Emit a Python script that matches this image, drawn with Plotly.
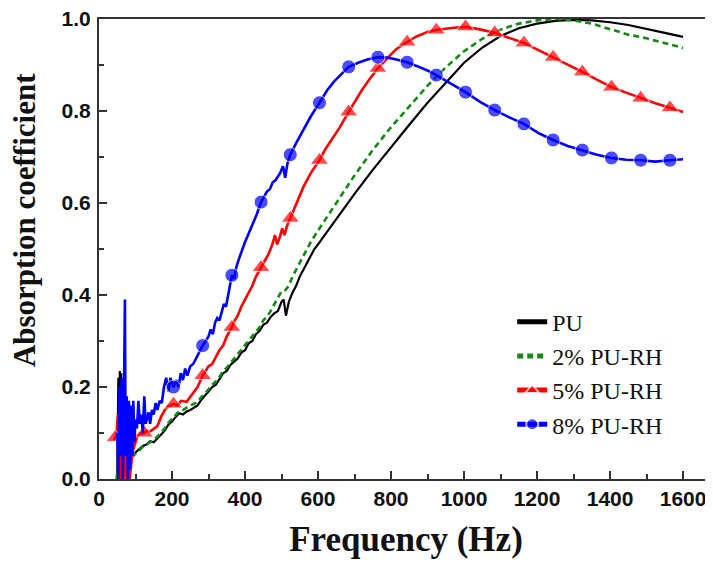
import plotly.graph_objects as go

# PU (black)
F_PU = [50, 53, 55, 57, 59, 61, 63, 66, 70, 75, 80, 85, 90, 95, 100, 110, 120, 130, 140, 150,
        160, 170, 180, 190, 200, 210, 220, 230, 240, 250, 260, 270, 280, 290, 300, 310, 320,
        330, 340, 350, 360, 370, 380, 390, 400, 410, 420, 430, 440, 450, 460, 470, 480, 490,
        500, 506, 512, 520, 530, 540, 550, 560, 570, 580, 590, 600, 650, 700, 750, 800, 850,
        900, 950, 1000, 1050, 1100, 1150, 1200, 1250, 1300, 1350, 1400, 1450, 1500, 1550, 1600]
A_PU = [0.0, 0.22, 0.02, 0.235, 0.0, 0.23, 0.05, 0.0, 0.13, 0.02, 0.10, 0.04, 0.06, 0.05, 0.058,
        0.065, 0.072, 0.075, 0.082, 0.08, 0.088, 0.095, 0.105, 0.118, 0.125, 0.135, 0.143, 0.14,
        0.147, 0.15, 0.155, 0.16, 0.172, 0.18, 0.19, 0.2, 0.205, 0.217, 0.23, 0.235, 0.248, 0.255,
        0.262, 0.275, 0.28, 0.295, 0.3, 0.315, 0.322, 0.335, 0.34, 0.352, 0.36, 0.365, 0.385, 0.39,
        0.355, 0.385, 0.405, 0.42, 0.44, 0.455, 0.47, 0.485, 0.5, 0.51, 0.565, 0.62, 0.672, 0.722,
        0.77, 0.818, 0.862, 0.905, 0.938, 0.963, 0.98, 0.99, 0.996, 0.998, 0.997, 0.993, 0.987,
        0.979, 0.97, 0.961]

# 2% PU-RH (green dashed)
F_2 = [48, 52, 56, 60, 70, 80, 90, 100, 110, 120, 130, 140, 150, 160, 170, 180, 190, 200, 210,
       220, 230, 240, 250, 260, 270, 280, 290, 300, 310, 320, 330, 340, 350, 360, 370, 380, 390,
       400, 410, 420, 430, 440, 450, 460, 470, 480, 490, 500, 510, 520, 530, 540, 550, 560, 570,
       580, 600, 650, 700, 750, 800, 850, 900, 950, 1000, 1050, 1100, 1150, 1200, 1250, 1300,
       1350, 1400, 1450, 1500, 1550, 1600]
A_2 = [0.0, 0.03, 0.0, 0.05, 0.02, 0.04, 0.05, 0.055, 0.062, 0.07, 0.075, 0.08, 0.085, 0.092,
       0.1, 0.11, 0.122, 0.13, 0.14, 0.148, 0.15, 0.155, 0.16, 0.163, 0.168, 0.178, 0.185, 0.195,
       0.205, 0.212, 0.222, 0.235, 0.242, 0.252, 0.262, 0.27, 0.282, 0.29, 0.302, 0.31, 0.322,
       0.33, 0.345, 0.352, 0.365, 0.38, 0.395, 0.408, 0.41, 0.42, 0.44, 0.455, 0.47, 0.485, 0.5,
       0.515, 0.54, 0.6, 0.66, 0.715, 0.765, 0.81, 0.855, 0.895, 0.93, 0.957, 0.977, 0.99, 0.997,
       1.0, 0.997, 0.99, 0.978, 0.966, 0.958, 0.948, 0.937]

# 5% PU-RH (red, triangles)
F_5 = [40, 44, 48, 52, 55, 58, 61, 64, 68, 72, 76, 80, 84, 88, 92, 96, 100, 106, 112, 118, 124,
       132, 140, 150, 160, 170, 180, 190, 204, 215, 225, 240, 255, 270, 284, 300, 310, 320, 330,
       340, 350, 364, 372, 380, 390, 400, 410, 420, 430, 444, 455, 465, 475, 482, 488, 495, 502,
       508, 515, 524, 540, 560, 580, 604, 620, 640, 660, 684, 700, 720, 740, 764, 790, 815, 844,
       870, 900, 924, 960, 1004, 1040, 1084, 1120, 1164, 1200, 1244, 1284, 1324, 1364, 1404,
       1444, 1484, 1524, 1564, 1600]
A_5 = [0.085, 0.09, 0.1, 0.14, 0.02, 0.12, 0.0, 0.08, 0.0, 0.06, 0.0, 0.04, 0.0, 0.03, 0.06,
       0.07, 0.08, 0.095, 0.1, 0.098, 0.1, 0.105, 0.103, 0.11, 0.115, 0.135, 0.15, 0.158, 0.163,
       0.16, 0.17, 0.168, 0.185, 0.2, 0.225, 0.245, 0.25, 0.265, 0.28, 0.29, 0.31, 0.33, 0.345,
       0.355, 0.375, 0.39, 0.405, 0.42, 0.44, 0.46, 0.475, 0.49, 0.51, 0.53, 0.51, 0.525, 0.545,
       0.53, 0.55, 0.567, 0.6, 0.635, 0.665, 0.693, 0.717, 0.74, 0.765, 0.798, 0.82, 0.845, 0.868,
       0.893, 0.915, 0.935, 0.95, 0.962, 0.972, 0.976, 0.98, 0.983, 0.978, 0.97, 0.96, 0.948,
       0.934, 0.917, 0.9, 0.885, 0.868, 0.852, 0.84, 0.828, 0.817, 0.807, 0.798]
MARK_5 = [44, 124, 204, 284, 364, 444, 524, 604, 684, 764, 844, 924, 1004, 1084, 1164, 1244,
          1324, 1404, 1484, 1564]

# 8% PU-RH (blue, circles)
F_8 = [50, 53, 56, 59, 62, 65, 68, 71, 73, 76, 79, 82, 85, 88, 91, 94, 97, 100, 104, 108, 112,
       116, 120, 124, 128, 132, 136, 140, 145, 150, 155, 160, 166, 172, 178, 184, 190, 196, 204,
       212, 218, 224, 230, 236, 242, 250, 258, 266, 274, 284, 292, 300, 306, 312, 318, 324, 330,
       336, 342, 348, 356, 364, 370, 376, 384, 392, 400, 408, 416, 424, 432, 444, 452, 460, 468,
       476, 484, 496, 504, 510, 516, 524, 540, 560, 580, 604, 625, 645, 665, 684, 710, 735, 764,
       790, 815, 844, 870, 900, 924, 960, 1004, 1044, 1084, 1124, 1164, 1204, 1244, 1284, 1324,
       1364, 1404, 1444, 1484, 1524, 1564, 1600]
A_8 = [0.1, 0.0, 0.2, 0.05, 0.22, 0.0, 0.15, 0.39, 0.05, 0.18, 0.0, 0.17, 0.02, 0.16, 0.05,
       0.17, 0.08, 0.13, 0.11, 0.17, 0.12, 0.14, 0.1, 0.18, 0.12, 0.13, 0.145, 0.12, 0.15, 0.14,
       0.165, 0.15, 0.17, 0.165, 0.2, 0.22, 0.19, 0.22, 0.2, 0.215, 0.2, 0.23, 0.215, 0.24, 0.225,
       0.245, 0.25, 0.262, 0.275, 0.29, 0.3, 0.31, 0.325, 0.315, 0.34, 0.35, 0.345, 0.365, 0.38,
       0.375, 0.41, 0.443, 0.435, 0.46, 0.48, 0.5, 0.515, 0.53, 0.545, 0.56, 0.575, 0.602, 0.615,
       0.625, 0.63, 0.645, 0.65, 0.665, 0.68, 0.655, 0.685, 0.705, 0.73, 0.76, 0.788, 0.818,
       0.845, 0.865, 0.882, 0.896, 0.905, 0.912, 0.917, 0.916, 0.912, 0.906, 0.898, 0.888, 0.878,
       0.862, 0.841, 0.82, 0.802, 0.786, 0.772, 0.752, 0.737, 0.724, 0.715, 0.705, 0.698, 0.694,
       0.693, 0.69, 0.693, 0.695]
MARK_8 = [204, 284, 364, 444, 524, 604, 684, 764, 844, 924, 1004, 1084, 1164, 1244, 1324, 1404,
          1484, 1564]

X_TICKS = [0, 200, 400, 600, 800, 1000, 1200, 1400, 1600]
Y_TICKS = [0.0, 0.2, 0.4, 0.6, 0.8, 1.0]

fig = go.Figure()

fig.add_trace(go.Scatter(x=F_PU, y=A_PU, mode='lines', name='PU',
                         line=dict(color='black', width=2.2)))
fig.add_trace(go.Scatter(x=F_2, y=A_2, mode='lines', name='2% PU-RH',
                         line=dict(color='#138a13', width=2.6, dash='6px,4px')))
fig.add_trace(go.Scatter(x=F_5, y=A_5, mode='lines+markers', name='5% PU-RH',
                         line=dict(color='#ff0000', width=2.6),
                         marker=dict(symbol='triangle-up', color='#ff0000',
                                     size=[16 if f in MARK_5 else 0 for f in F_5])))
fig.add_trace(go.Scatter(x=F_8, y=A_8, mode='lines+markers', name='8% PU-RH',
                         line=dict(color='#0000ff', width=2.6),
                         marker=dict(symbol='circle', color='#0000ff',
                                     size=[14 if f in MARK_8 else 0 for f in F_8])))

tick_font = dict(family='Liberation Sans, Arial', size=21, color='#111', weight='bold')
title_font = dict(family='Liberation Serif, Times New Roman', color='#111', weight='bold')

fig.update_xaxes(range=[0, 1682], tickvals=X_TICKS, ticks='inside', ticklen=8, tickwidth=2,
                 tickcolor='#333', showline=True, linecolor='#333', linewidth=2, mirror=True,
                 showgrid=False, zeroline=False, tickfont=tick_font, automargin=False,
                 ticklabeloverflow='allow',
                 minor=dict(dtick=100, ticks='inside', ticklen=5, tickwidth=2, tickcolor='#333'),
                 title=dict(text='Frequency (Hz)', font=dict(size=35, **title_font), standoff=17))
fig.update_yaxes(range=[0, 1.0], tickvals=Y_TICKS, tickformat='.1f', ticks='inside', ticklen=8,
                 tickwidth=2, tickcolor='#333', showline=True, linecolor='#333', linewidth=2,
                 showgrid=False, zeroline=False, tickfont=tick_font, automargin=False,
                 ticklabelstandoff=2, ticklabeloverflow='allow',
                 minor=dict(dtick=0.1, ticks='inside', ticklen=5, tickwidth=2, tickcolor='#333'))

# y title sits above the plot's middle in the original, so place it by hand
fig.add_annotation(text='Absorption coefficient', textangle=-90, showarrow=False,
                   xref='paper', yref='paper', x=-0.122, y=0.563,
                   xanchor='center', yanchor='middle', font=dict(size=31, **title_font))

# the page body keeps its default 8px margin, so the figure is 8px smaller than the window
fig.update_layout(
    width=705, height=554,
    margin=dict(l=91, r=0, t=11, b=83),
    paper_bgcolor='white', plot_bgcolor='white',
    showlegend=True,
    legend=dict(x=0.673, y=0.39, xanchor='left', yanchor='top', itemsizing='constant',
                bgcolor='rgba(0,0,0,0)',
                font=dict(family='Liberation Serif, Times New Roman', size=24, color='#111')),
)

fig.write_html("out.html")
